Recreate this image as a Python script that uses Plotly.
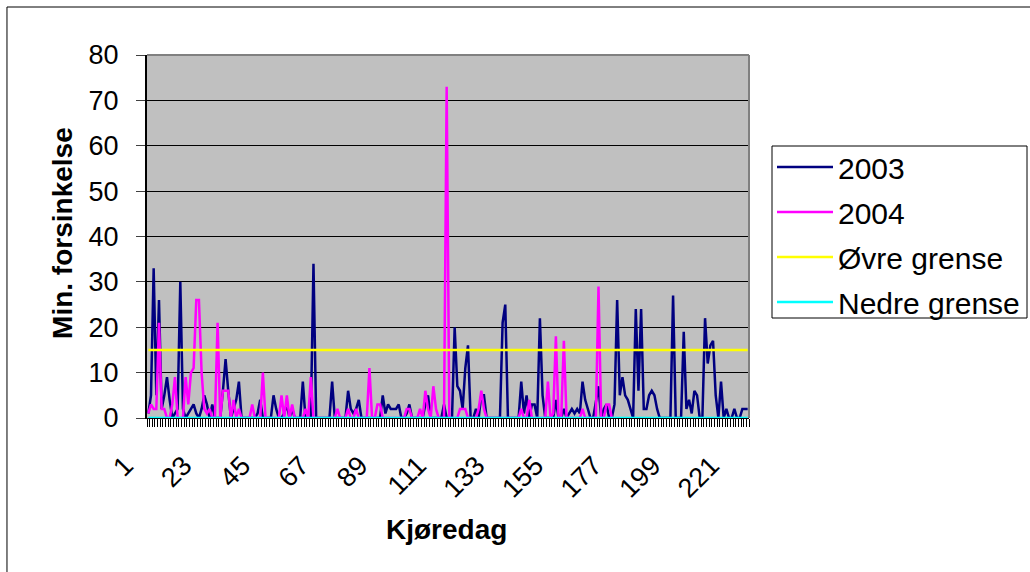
import plotly.graph_objects as go

# Kjøredag 1..226 and delay in minutes per day
days = list(range(1, 227))

delay_2003 = [
    1, 5, 33, 5, 26, 2, 5, 9, 4, 0,
    1, 2, 30, 2, 0, 1, 2, 3, 1, 0,
    2, 5, 3, 0, 3, 0, 0, 0, 6, 13,
    6, 0, 2, 4, 8, 0, 0, 0, 0, 0,
    0, 1, 4, 0, 0, 0, 0, 5, 2, 0,
    0, 1, 3, 0, 2, 0, 0, 0, 8, 0,
    0, 0, 34, 0, 0, 0, 0, 0, 0, 8,
    0, 0, 0, 0, 0, 6, 2, 1, 2, 4,
    0, 0, 0, 0, 0, 0, 0, 0, 5, 1,
    3, 2, 2, 2, 3, 0, 0, 1, 3, 0,
    0, 0, 0, 0, 3, 5, 0, 0, 0, 0,
    0, 3, 0, 0, 0, 20, 7, 6, 2, 11,
    16, 0, 0, 2, 0, 5, 5, 0, 0, 0,
    0, 0, 0, 21, 25, 0, 0, 0, 0, 0,
    8, 1, 5, 0, 3, 3, 0, 22, 5, 0,
    0, 0, 0, 4, 0, 0, 2, 0, 1, 2,
    1, 2, 1, 8, 4, 2, 0, 0, 4, 7,
    0, 2, 3, 0, 0, 3, 26, 5, 9, 5,
    4, 2, 0, 24, 6, 24, 2, 2, 5, 6,
    5, 2, 0, 0, 0, 0, 0, 27, 0, 0,
    0, 19, 2, 4, 1, 6, 5, 0, 0, 22,
    12, 16, 17, 5, 0, 8, 0, 2, 0, 0,
    2, 0, 0, 2, 2, 2,
]

delay_2004 = [
    1, 3, 2, 2, 21, 2, 2, 0, 0, 3,
    9, 0, 0, 0, 9, 3, 10, 11, 26, 26,
    10, 2, 1, 2, 0, 0, 21, 0, 6, 6,
    6, 0, 4, 0, 2, 0, 0, 0, 0, 3,
    0, 0, 0, 10, 0, 0, 0, 0, 0, 0,
    5, 0, 5, 0, 3, 0, 0, 0, 0, 2,
    0, 9, 0, 0, 0, 0, 0, 0, 0, 0,
    0, 2, 0, 0, 0, 2, 0, 0, 2, 0,
    0, 0, 0, 11, 0, 0, 3, 3, 0, 0,
    0, 0, 0, 0, 0, 0, 0, 2, 2, 0,
    0, 0, 2, 0, 6, 2, 0, 7, 2, 0,
    0, 0, 73, 0, 0, 0, 0, 2, 2, 2,
    0, 0, 0, 0, 2, 6, 2, 0, 0, 0,
    0, 0, 0, 0, 0, 0, 0, 0, 0, 0,
    2, 0, 0, 4, 0, 0, 0, 0, 0, 0,
    8, 0, 1, 18, 0, 0, 17, 0, 0, 0,
    0, 0, 0, 2, 0, 0, 0, 0, 0, 29,
    0, 0, 3, 3, 0,
]

ovre_grense = 15
nedre_grense = 0

x_tick_vals = [1, 23, 45, 67, 89, 111, 133, 155, 177, 199, 221]
y_tick_vals = [0, 10, 20, 30, 40, 50, 60, 70, 80]

FONT = "Arial, Liberation Sans, sans-serif"

fig = go.Figure()
series = [
    ("2003", days[:len(delay_2003)], delay_2003, "#000080"),
    ("2004", days[:len(delay_2004)], delay_2004, "#FF00FF"),
    ("Øvre grense", days, [ovre_grense] * len(days), "#FFFF00"),
    ("Nedre grense", days, [nedre_grense] * len(days), "#00FFFF"),
]
for name, xs, ys, color in series:
    fig.add_trace(go.Scatter(x=xs, y=ys, mode="lines", name=name,
                             legendgroup=name,
                             line=dict(color=color, width=2.5)))

fig.update_layout(
    width=1030, height=572,
    margin=dict(l=147, r=281, t=55, b=154),
    paper_bgcolor="white",
    plot_bgcolor="#C0C0C0",
    font=dict(family=FONT, size=28, color="black"),
    showlegend=True,
    legend=dict(
        xref="container", yref="container",
        x=772 / 1030, y=1 - 141 / 572, xanchor="left", yanchor="top",
        bgcolor="rgba(0,0,0,0)", borderwidth=0,
        font=dict(family=FONT, size=30, color="black"),
        itemwidth=56,
        tracegroupgap=3,
    ),
    xaxis=dict(
        range=[0.5, 226.5],
        tickmode="array",
        tickvals=x_tick_vals,
        ticktext=[str(v) for v in x_tick_vals],
        tickangle=-45,
        ticks="outside", ticklen=8, tickcolor="rgba(0,0,0,0)",
        ticklabelstandoff=12,
        ticklabelshift=-23,
        showgrid=False,
        zeroline=False,
        showline=True, linecolor="black", linewidth=1,
        layer="below traces",
        tickfont=dict(family=FONT, size=27),
        minor=dict(ticks="outside", tick0=0.5, dtick=1, ticklen=8,
                   tickcolor="black", tickwidth=1, showgrid=False),
    ),
    yaxis=dict(
        range=[0, 80],
        tickmode="array",
        tickvals=y_tick_vals,
        ticks="outside", ticklen=9, tickcolor="#404040",
        showgrid=True, gridcolor="black", gridwidth=1,
        zeroline=False,
        showline=True, linecolor="black", linewidth=2,
        layer="below traces",
        tickfont=dict(family=FONT, size=27),
        ticklabelstandoff=12,
    ),
    shapes=[
        # plot-area frame (top and right edges)
        dict(type="line", xref="paper", yref="paper", x0=0, x1=1, y0=1, y1=1,
             line=dict(color="#808080", width=2), layer="above"),
        dict(type="line", xref="paper", yref="paper", x0=1, x1=1, y0=0, y1=1,
             line=dict(color="#808080", width=2), layer="above"),
        # chart-area border
        dict(type="rect", xref="paper", yref="paper",
             x0=-0.2326, x1=1.5, y0=-0.5, y1=1.1322,
             line=dict(color="black", width=1), fillcolor="rgba(0,0,0,0)",
             layer="below"),
        # legend frame
        dict(type="rect", xref="paper", yref="paper",
             x0=(772 - 147) / 602, x1=(1027 - 147) / 602,
             y0=(418 - 318) / 363, y1=(418 - 146) / 363,
             line=dict(color="black", width=1), fillcolor="white",
             layer="below"),
    ],
    annotations=[
        dict(text="<b>Min. forsinkelse</b>", xref="paper", yref="paper",
             x=-0.1395, y=0.51, xanchor="center", yanchor="middle",
             textangle=-90, showarrow=False, font=dict(family=FONT, size=28)),
        dict(text="<b>Kjøredag</b>", xref="paper", yref="paper",
             x=0.498, y=-0.308, xanchor="center", yanchor="middle",
             showarrow=False, font=dict(family=FONT, size=28)),
    ],
)

fig.write_html("out.html")
